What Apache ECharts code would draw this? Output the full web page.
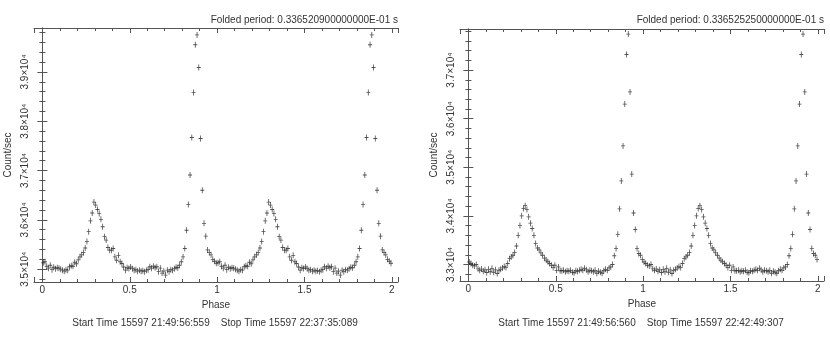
<!DOCTYPE html>
<html>
<head>
<meta charset="utf-8">
<script src="https://cdn.jsdelivr.net/npm/echarts@6/dist/echarts.min.js"></script>
<style>
  html, body { margin: 0; padding: 0; background: #fff; }
  #chart { width: 830px; height: 350px; }
</style>
</head>
<body>
<div id="chart"></div>
<script>
// folded light curves, 100 phase bins per period (shown twice)
const leftCounts = [
  35130, 35150, 35060, 35020, 35080, 34990, 35040, 35010, 35030, 35020,
  35000, 34980, 34960, 34990, 34980, 35050, 35070, 35060, 35140, 35110,
  35190, 35250, 35290, 35340, 35430, 35560, 35760, 35980, 36140, 36360,
  36300, 36210, 36130, 36010, 35860, 35660, 35590, 35440, 35385, 35385,
  35420, 35250, 35180, 35280, 35150, 35115, 35045, 34980, 35030, 35015,
  35045, 35010, 34980, 34990, 34960, 34980, 34960, 34970, 34950, 34980,
  34990, 35050, 35020, 35060, 35030, 35050, 34950, 35020, 34920, 34960,
  34880, 34980, 34950, 34990, 34980, 35010, 35040, 35030, 35080, 35150,
  35250, 35420, 35790, 36310, 36910, 37670, 38580, 39550, 39750, 39090,
  37650, 36600, 35930, 35670, 35390, 35340, 35290, 35200, 35160, 35120
];
const rightCounts = [
  33050, 33020, 32985, 32970, 33000, 32910, 32880, 32905, 32860, 32890,
  32835, 32900, 32850, 32920, 32840, 32890, 32815, 32880, 32900, 32930,
  32960, 32940, 33020, 33120, 33155, 33190, 33245, 33380, 33600, 33800,
  34000, 34150, 34210, 34130, 33980, 33850, 33740, 33600, 33430, 33340,
  33300, 33240, 33190, 33130, 33090, 33055, 33020, 32985, 32940, 32985,
  32880, 32950, 32870, 32870, 32880, 32850, 32870, 32860, 32880, 32840,
  32830, 32870, 32860, 32880, 32900, 32880, 32920, 32890, 32850, 32880,
  32870, 32850, 32880, 32820, 32860, 32840, 32820, 32870, 32900, 32880,
  32930, 32950, 33000, 33180, 33330, 33620, 34145, 34720, 35440, 36300,
  37320, 37740, 36550, 34860, 34060, 33720, 33330, 33225, 33190, 33100
];
const periodLabels = [
  'Folded period: 0.336520900000000E-01 s',
  'Folded period: 0.336525250000000E-01 s'
];
const timeLabels = [
  'Start Time 15597 21:49:56:559    Stop Time 15597 22:37:35:089',
  'Start Time 15597 21:49:56:560    Stop Time 15597 22:42:49:307'
];

const font = '"Liberation Sans", Arial, sans-serif';
const frameColor = '#555';
const textColor = '#333';
const plusSymbol = 'path://M2,0h1v7h-1zM0,3h5v1h-5z';

function foldTwice(counts) {
  const n = counts.length;
  const out = [];
  for (let c = 0; c < 2; c++) {
    counts.forEach((v, i) => out.push([c + (i + 0.5) / n, v]));
  }
  return out;
}

function xAxisFor(gridIndex, pos) {
  const bottom = pos === 'bottom';
  return {
    type: 'value', gridIndex: gridIndex, position: pos,
    min: -0.048, max: 2.035, splitNumber: 5,
    name: bottom ? 'Phase' : '', nameLocation: 'middle', nameGap: 14,
    nameTextStyle: { fontFamily: font, fontSize: 10, color: textColor },
    axisLine: { show: true, onZero: false, lineStyle: { color: frameColor, width: 1 } },
    axisTick: { show: true, inside: true, length: 5, lineStyle: { color: frameColor } },
    minorTick: { show: true, splitNumber: 5, length: 3, lineStyle: { color: frameColor } },
    axisLabel: {
      show: bottom, margin: 3, fontFamily: font, fontSize: 10, color: textColor,
      showMinLabel: false, showMaxLabel: false,
      formatter: v => (Math.abs(v * 2 - Math.round(v * 2)) < 1e-6 ? String(v) : '')
    },
    splitLine: { show: false }
  };
}

function yAxisFor(gridIndex, pos, min, max) {
  const left = pos === 'left';
  return {
    type: 'value', gridIndex: gridIndex, position: pos,
    min: min, max: max, splitNumber: 5,
    name: left ? 'Count/sec' : '', nameLocation: 'middle', nameGap: 21,
    nameTextStyle: { fontFamily: font, fontSize: 10, color: textColor },
    axisLine: { show: true, lineStyle: { color: frameColor, width: 1 } },
    axisTick: { show: true, inside: true, length: 5, lineStyle: { color: frameColor } },
    minorTick: { show: true, splitNumber: 5, length: 3, lineStyle: { color: frameColor } },
    axisLabel: {
      show: left, rotate: 90, margin: 4, fontFamily: font, fontSize: 10, color: textColor,
      formatter: v => (v % 1000 === 0 ? (v / 10000).toFixed(1) + '×10⁴' : '')
    },
    splitLine: { show: false }
  };
}

const chart = echarts.init(document.getElementById('chart'), null, { renderer: 'canvas' });
chart.setOption({
  animation: false,
  backgroundColor: '#fff',
  grid: [
    { left: 34, right: 432, top: 28, bottom: 68 },
    { left: 460, right: 6, top: 29, bottom: 69 }
  ],
  xAxis: [
    xAxisFor(0, 'bottom'), xAxisFor(0, 'top'),
    xAxisFor(1, 'bottom'), xAxisFor(1, 'top')
  ],
  yAxis: [
    yAxisFor(0, 'left', 34740, 39890), yAxisFor(0, 'right', 34740, 39890),
    yAxisFor(1, 'left', 32660, 37845), yAxisFor(1, 'right', 32660, 37845)
  ],
  series: [
    {
      type: 'scatter', xAxisIndex: 0, yAxisIndex: 0,
      data: foldTwice(leftCounts),
      symbol: plusSymbol, symbolSize: [4, 6],
      itemStyle: { color: '#222' }
    },
    {
      type: 'scatter', xAxisIndex: 2, yAxisIndex: 2,
      data: foldTwice(rightCounts),
      symbol: plusSymbol, symbolSize: [4, 6],
      itemStyle: { color: '#222' }
    }
  ],
  graphic: [
    { type: 'text', right: 432, top: 15, style: { text: periodLabels[0], font: '10px ' + font, fill: textColor } },
    { type: 'text', right: 6, top: 15, style: { text: periodLabels[1], font: '10px ' + font, fill: textColor } },
    { type: 'text', x: 215, y: 323, style: { text: timeLabels[0], font: '10px ' + font, fill: textColor, align: 'center', verticalAlign: 'middle' } },
    { type: 'text', x: 641, y: 323, style: { text: timeLabels[1], font: '10px ' + font, fill: textColor, align: 'center', verticalAlign: 'middle' } }
  ]
});
</script>
</body>
</html>
